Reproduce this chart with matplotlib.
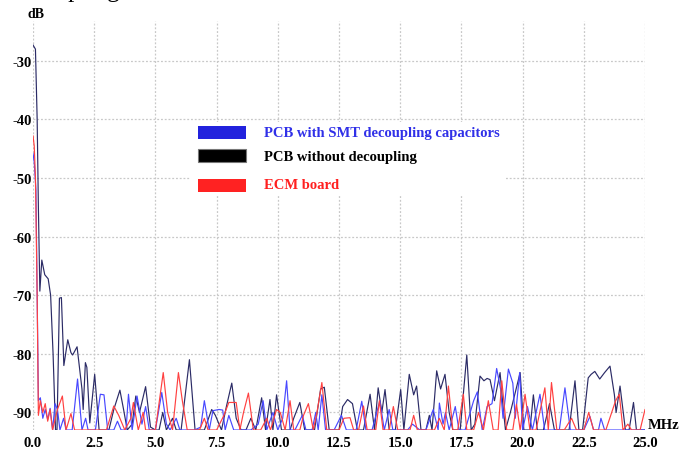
import matplotlib
matplotlib.use("Agg")
import matplotlib.pyplot as plt
from matplotlib.patches import Rectangle

# Spectrum vertices (MHz, dB)
freq_smt = [0.0, 0.05, 0.12, 0.17, 0.22, 0.3, 0.4, 0.5, 0.6, 0.7, 0.8, 0.9, 1.0, 1.1, 1.25, 1.35,
            1.6, 1.82, 2.0, 2.15, 2.25, 2.55, 2.75, 2.9, 3.05, 3.3, 3.45, 3.6, 3.8, 3.9, 4.05, 4.25,
            4.45, 4.6, 4.75, 5.0, 5.26, 5.45, 5.6, 5.85, 6.0, 6.3, 6.6, 6.85, 7.0, 7.2, 7.35, 7.6,
            7.75, 7.85, 8.0, 8.2, 8.6, 8.9, 9.2, 9.4, 9.55, 9.8, 10.0, 10.2, 10.36, 10.5, 10.7, 11.0,
            11.15, 11.4, 11.55, 11.65, 11.8, 11.95, 12.3, 12.6, 12.8, 13.2, 13.43, 13.6, 13.85, 14.17,
            14.35, 14.55, 14.7, 15.0, 15.3, 15.5, 15.8, 16.05, 16.35, 16.55, 16.6, 16.75, 16.85, 17.0,
            17.25, 17.4, 17.65, 18.0, 18.15, 18.35, 18.55, 18.75, 18.94, 19.1, 19.2, 19.42, 19.6,
            19.7, 19.88, 20.0, 20.2, 20.4, 20.55, 20.71, 20.9, 21.2, 21.5, 21.73, 21.95, 22.3, 22.5,
            22.75, 22.9, 23.1, 23.2, 23.35, 25.0]
db_smt = [-45.8, -47.3, -52.0, -70.0, -88.0, -87.5, -91.0, -89.5, -91.2, -89.3, -93.0, -88.5, -89.5, -93.0, -91.0, -93.0,
          -93.0, -84.3, -93.0, -91.0, -93.0, -93.0, -86.9, -87.0, -93.0, -93.0, -91.5, -93.0, -93.0, -86.9, -93.0, -87.2,
          -92.0, -89.0, -93.0, -93.0, -86.6, -92.0, -93.0, -91.0, -93.0, -93.0, -93.0, -92.5, -88.0, -93.0, -89.7, -89.5,
          -89.6, -93.0, -90.5, -93.0, -93.0, -93.0, -92.0, -88.0, -93.0, -90.0, -93.0, -91.0, -84.6, -93.0, -93.0, -90.5,
          -93.0, -93.0, -90.0, -93.0, -87.0, -93.0, -93.0, -90.5, -93.0, -93.0, -88.1, -93.0, -93.0, -88.0,
          -93.0, -89.5, -93.0, -93.0, -93.0, -92.0, -93.0, -93.0, -89.5, -93.0, -88.4, -92.0, -90.0, -93.0,
          -89.0, -93.0, -93.0, -88.0, -86.5, -93.0, -89.0, -88.5, -82.5, -86.0, -91.0, -82.6, -85.0,
          -91.0, -83.2, -93.0, -89.0, -93.0, -90.0, -86.9, -93.0, -93.0, -93.0, -85.8, -93.0, -93.0, -93.0,
          -90.7, -93.0, -93.0, -91.0, -93.0, -93.0]

freq_nodec = [0.0, 0.1, 0.17, 0.22, 0.28, 0.36, 0.48, 0.62, 0.72, 0.82, 0.92, 0.98, 1.08, 1.16, 1.26, 1.42,
              1.55, 1.62, 1.8, 2.0, 2.05, 2.14, 2.2, 2.32, 2.52, 2.7, 3.1, 3.3, 3.55, 3.7, 3.85, 4.05,
              4.2, 4.35, 4.6, 4.8, 5.0, 5.15, 5.3, 5.45, 5.7, 5.85, 6.05, 6.39, 6.62, 7.0, 7.3, 7.45,
              7.7, 7.9, 8.12, 8.3, 8.5, 8.7, 8.9, 9.1, 9.34, 9.5, 9.68, 9.8, 9.95, 10.15, 10.5, 10.65,
              10.9, 11.1, 11.5, 11.75, 11.9, 12.1, 12.5, 12.65, 12.85, 13.05, 13.25, 13.5, 13.77, 13.95,
              14.1, 14.25, 14.38, 14.55, 14.8, 15.02, 15.15, 15.37, 15.55, 15.67, 15.85, 16.05, 16.19,
              16.3, 16.49, 16.65, 16.83, 17.0, 17.15, 17.45, 17.72, 17.9, 18.05, 18.26, 18.42, 18.55,
              18.67, 18.85, 19.08, 19.2, 19.3, 19.5, 19.9, 20.05, 20.3, 20.44, 20.6, 20.85, 21.1, 21.3,
              21.5, 21.9, 22.14, 22.3, 22.45, 22.68, 22.8, 22.95, 23.15, 23.35, 23.57, 23.75, 23.82,
              23.98, 24.2, 24.35, 24.53, 24.65, 25.0]
db_nodec = [-27.3, -28.0, -40.0, -55.0, -69.3, -64.0, -66.5, -67.2, -70.0, -80.0, -93.0, -93.0, -70.5, -70.4, -82.0, -77.6,
            -79.8, -80.2, -78.8, -86.0, -89.5, -81.5, -82.3, -91.8, -83.5, -93.0, -93.0, -89.5, -86.2, -89.5, -93.0, -92.0,
            -87.2, -90.0, -85.6, -92.5, -93.0, -93.0, -90.0, -93.0, -91.0, -93.0, -93.0, -81.0, -93.0, -93.0, -89.5, -90.5,
            -93.0, -89.0, -85.0, -91.0, -93.0, -93.0, -91.0, -93.0, -87.5, -93.0, -87.8, -93.0, -87.0, -93.0, -93.0, -91.0,
            -88.3, -93.0, -93.0, -86.0, -85.7, -93.0, -93.0, -89.0, -87.8, -88.5, -93.0, -93.0, -86.9, -93.0,
            -85.8, -90.0, -86.1, -93.0, -93.0, -86.1, -93.0, -83.5, -87.0, -85.5, -93.0, -93.0, -90.5,
            -93.0, -82.9, -86.0, -83.5, -90.0, -93.0, -93.0, -80.2, -93.0, -92.0, -83.8, -84.6, -84.2,
            -84.4, -88.0, -83.2, -89.0, -93.0, -90.0, -83.2, -93.0, -93.0, -87.0, -93.0, -93.0, -88.5, -93.0,
            -93.0, -93.0, -84.6, -93.0, -93.0, -84.1, -83.5, -83.0, -84.3, -83.2, -82.1, -87.0, -90.0,
            -85.5, -93.0, -93.0, -88.3, -93.0, -93.0]

freq_ecm = [0.0, 0.05, 0.1, 0.17, 0.22, 0.3, 0.4, 0.5, 0.6, 0.7, 0.8, 1.0, 1.2, 1.35, 1.55, 1.7,
            2.0, 2.5, 3.0, 3.3, 3.5, 3.75, 4.0, 4.1, 4.3, 4.5, 4.6, 5.0, 5.32, 5.5, 5.7, 5.94,
            6.1, 6.3, 6.8, 7.0, 7.15, 7.5, 7.8, 8.0, 8.3, 8.45, 8.6, 8.8, 9.0, 9.3, 9.55, 9.7,
            9.95, 10.1, 10.3, 10.5, 10.65, 10.9, 11.05, 11.25, 11.45, 11.6, 11.8, 12.0, 12.5, 12.7,
            12.95, 13.1, 13.3, 13.5, 13.65, 14.0, 14.15, 14.3, 14.55, 14.72, 14.9, 15.4, 15.55, 15.7,
            16.4, 16.6, 16.8, 16.97, 17.15, 17.35, 17.58, 17.72, 18.0, 18.2, 18.4, 18.6, 18.8, 19.0,
            19.15, 19.35, 19.6, 19.75, 19.9, 20.1, 20.3, 20.55, 20.91, 21.05, 21.18, 21.4, 21.7, 22.0,
            22.2, 22.5, 22.7, 22.9, 23.4, 23.8, 23.95, 24.1, 24.3, 24.45, 24.8, 25.0]
db_ecm = [-42.8, -44.5, -50.0, -70.0, -90.5, -88.0, -90.0, -88.5, -91.5, -89.5, -93.0, -89.5, -87.2, -93.0, -90.2, -93.0,
          -93.0, -93.0, -93.0, -88.9, -90.5, -93.0, -91.0, -88.3, -93.0, -90.0, -93.0, -93.0, -83.2, -90.0, -93.0, -83.2,
          -88.0, -93.0, -93.0, -91.0, -93.0, -93.0, -90.5, -88.3, -88.3, -93.0, -90.0, -86.7, -93.0, -93.0, -91.0, -93.0,
          -89.5, -90.0, -93.0, -88.0, -93.0, -93.0, -90.5, -88.5, -93.0, -90.0, -84.9, -93.0, -93.0, -91.0,
          -90.9, -93.0, -93.0, -88.9, -93.0, -93.0, -88.0, -93.0, -93.0, -89.0, -93.0, -93.0, -90.5, -93.0,
          -93.0, -91.0, -93.0, -85.5, -93.0, -93.0, -86.9, -93.0, -93.0, -90.0, -93.0, -88.0, -93.0, -93.0,
          -84.6, -93.0, -93.0, -88.6, -93.0, -86.9, -93.0, -93.0, -85.8, -93.0, -84.9, -93.0, -93.0, -91.0,
          -93.0, -93.0, -90.0, -93.0, -93.0, -88.0, -86.9, -93.0, -92.0, -93.0, -93.0, -89.5]

series_labels = ["PCB with SMT decoupling capacitors", "PCB without decoupling", "ECM board"]
x_ticks = [0.0, 2.5, 5.0, 7.5, 10.0, 12.5, 15.0, 17.5, 20.0, 22.5, 25.0]
y_ticks = [-30, -40, -50, -60, -70, -80, -90]

W, H = 681, 452


def fx(px):
    return px / W


def fy(py):
    # picture rows count from the top
    return 1 - py / H


plt.rcParams["font.family"] = ["Liberation Serif", "DejaVu Serif"]
fig = plt.figure(figsize=(W / 100, H / 100), dpi=100)
ax = fig.add_axes([fx(33), fy(431), fx(612), 409 / H])

ax.plot(freq_nodec, db_nodec, color="#2b2b66", lw=0.85, zorder=3)
ax.plot(freq_smt, db_smt, color="#4848ff", lw=0.85, zorder=4)
ax.plot(freq_ecm, db_ecm, color="#ff4040", lw=0.85, zorder=5)

ax.set_xlim(0, 25)
ax.set_ylim(-93, -23.2)
ax.set_xticks(x_ticks)
ax.set_xticklabels([f"{t:.1f}" for t in x_ticks])
ax.set_yticks(y_ticks)
ax.set_yticklabels([str(t) for t in y_ticks])
ax.tick_params(length=0, labelsize=10.5)
ax.tick_params(axis="x", pad=4)
ax.tick_params(axis="y", pad=1)
for lab in ax.get_xticklabels() + ax.get_yticklabels():
    lab.set_fontweight("bold")
for sp in ax.spines.values():
    sp.set_visible(False)
ax.grid(True, color="#c8c8c8", lw=0.9, ls=(0, (1.5, 1.5)))
ax.set_axisbelow(True)

# unit labels
fig.text(fx(28), fy(14), "dB", fontsize=10, fontweight="bold", va="center")
fig.text(fx(648), fy(426), "MHz", fontsize=10.5, fontweight="bold", va="center")

# cropped caption above the chart, only the descenders show
fig.text(fx(32), fy(-3.5), "coupling", fontsize=18, va="baseline")

# legend drawn by hand over a white block
fig.patches.append(Rectangle((fx(190), fy(196)), fx(315), 73 / H, transform=fig.transFigure,
                             facecolor="white", edgecolor="none", zorder=2))
leg_colors = ["#2222dd", "#000000", "#ff2222"]
leg_text_colors = ["#3030e8", "#000000", "#ff2020"]
leg_rows = [133, 156, 186]
text_rows = [133, 158, 186]
for lab, col, tcol, row, trow in zip(series_labels, leg_colors, leg_text_colors, leg_rows, text_rows):
    fig.patches.append(Rectangle((fx(198), fy(row + 6.5)), fx(48), 13 / H, transform=fig.transFigure,
                                 facecolor=col, edgecolor="#777777" if col == "#000000" else "none",
                                 lw=0.8, zorder=3))
    fig.text(fx(264), fy(trow), lab, color=tcol, fontsize=10.5, fontweight="bold", va="center", zorder=4)

fig.savefig("out.png", dpi=100)
